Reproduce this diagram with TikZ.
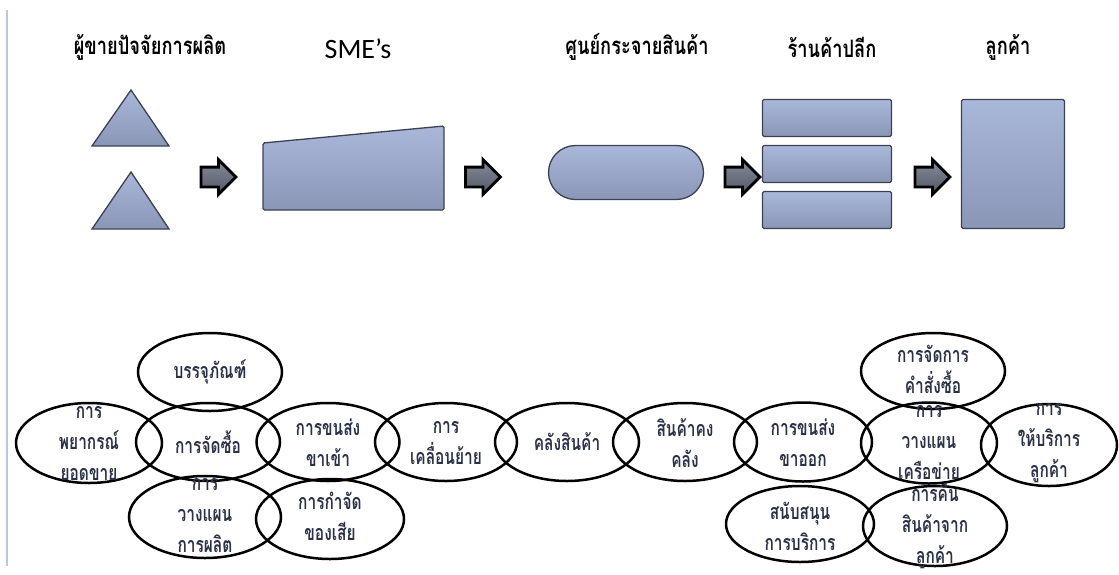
\documentclass[tikz,border=0pt]{standalone}
\usepackage{fontspec}
\usetikzlibrary{shapes.geometric,shapes.arrows}
\newfontfamily\thaihead[Script=Thai, FakeStretch=0.76]{Loma}
\newfontfamily\thaitext[Script=Thai, FakeStretch=0.72]{Loma}
\newfontfamily\latinfont{Carlito}

\definecolor{shapetop}{HTML}{A9B7D9}
\definecolor{shapebot}{HTML}{8A96B6}
\definecolor{shapeedge}{HTML}{3C4252}
\definecolor{arrtop}{HTML}{858B99}
\definecolor{arrbot}{HTML}{525866}
\definecolor{labelink}{HTML}{2B3247}
\definecolor{sideline}{HTML}{B7C6EA}

\tikzset{
  solid shape/.style={draw=shapeedge, line width=1.3pt, top color=shapetop, bottom color=shapebot},
  barbox/.style={solid shape, rectangle, rounded corners=1.5pt, inner sep=0pt},
  blockarrow/.style={single arrow, draw=black, line width=2.8pt, top color=arrtop, bottom color=arrbot,
    minimum height=35pt, minimum width=32pt, single arrow head extend=7.5pt, inner sep=0pt, inner ysep=8.5pt},
  heading/.style={font=\thaihead\bfseries\fontsize{24}{26}\selectfont, text=black, inner sep=0pt},
  bubble/.style={ellipse, draw=black, line width=2.5pt, inner sep=0pt},
  bubbletext/.style={align=center, font=\thaitext\bfseries\fontsize{21.5}{31}\selectfont, text=labelink, inner sep=0pt},
}

\begin{document}
\begin{tikzpicture}[x=1pt, y=-1pt]
\useasboundingbox (0,0) rectangle (1119,574);

% thin margin rule on the left
\draw[sideline, line width=1.2pt] (7,10) -- (7,566);

% column headings
\node[heading] (h1) at (150,47) {ผู้ขายปัจจัยการผลิต};
\node[inner sep=0pt, font=\latinfont\fontsize{28}{30}\selectfont] (h2) at (358,49) {SME’s};
\node[heading] (h3) at (637,47) {ศูนย์กระจายสินค้า};
\node[heading] (h4) at (832,47) {ร้านค้าปลีก};
\node[heading] (h5) at (1008,47) {ลูกค้า};

% suppliers: two triangles
\path[solid shape] (92,146) -- (131,90) -- (169,146) -- cycle;
\path[solid shape] (92,229) -- (131,172) -- (169,229) -- cycle;

% SME: slanted block
\path[solid shape, rounded corners=1.5pt] (263,143) -- (444,126) -- (444,210) -- (263,210) -- cycle;

% distribution centre
\node[solid shape, rectangle, rounded corners=27pt, minimum width=155pt, minimum height=54pt, inner sep=0pt] (dc) at (626,172.5) {};

% retailers
\node[barbox, minimum width=129pt, minimum height=37pt] (r1) at (827,118) {};
\node[barbox, minimum width=129pt, minimum height=37pt] (r2) at (827,164) {};
\node[barbox, minimum width=129pt, minimum height=37pt] (r3) at (827,210) {};

% customer
\node[barbox, minimum width=103pt, minimum height=129pt] (cust) at (1013,164) {};

% flow arrows
\node[blockarrow] (a1) at (213.5,177) {};
\node[blockarrow] (a2) at (478,177) {};
\node[blockarrow] (a3) at (737.5,177) {};
\node[blockarrow] (a4) at (927.5,177) {};

% activity bubbles
\node[bubble, minimum width=144pt, minimum height=78pt] (pack)  at (210,372) {};
\node[bubble, minimum width=146pt, minimum height=80pt] (fcst)  at (89,443) {};
\node[bubble, minimum width=144pt, minimum height=78pt] (buy)   at (208,442) {};
\node[bubble, minimum width=143pt, minimum height=78pt] (inb)   at (328,442) {};
\node[bubble, minimum width=152pt, minimum height=82pt] (plan)  at (205,517) {};
\node[bubble, minimum width=148pt, minimum height=80pt] (waste) at (330,519) {};
\node[bubble, minimum width=142pt, minimum height=78pt] (move)  at (446,442) {};
\node[bubble, minimum width=144pt, minimum height=78pt] (wh)    at (567,442) {};
\node[bubble, minimum width=144pt, minimum height=78pt] (inv)   at (685,442) {};
\node[bubble, minimum width=138pt, minimum height=79pt] (outb)  at (803,442) {};
\node[bubble, minimum width=136pt, minimum height=81pt] (net)   at (929,443) {};
\node[bubble, minimum width=136pt, minimum height=82pt] (serv)  at (1049,445) {};
\node[bubble, minimum width=144pt, minimum height=76pt] (order) at (933,371) {};
\node[bubble, minimum width=148pt, minimum height=76pt] (supp)  at (800,524) {};
\node[bubble, minimum width=144pt, minimum height=80pt] (ret)   at (935,526) {};

% bubble labels
\node[bubbletext] (tpack)  at (pack)  {บรรจุภัณฑ์};
\node[bubbletext] (tfcst)  at (89,443)  {การ\\พยากรณ์\\ยอดขาย};
\node[bubbletext] (tbuy)   at (buy)   {การจัดซื้อ};
\node[bubbletext] (tinb)   at (328,443) {การขนส่ง\\ขาเข้า};
\node[bubbletext] (tplan)  at (205,516) {การ\\วางแผน\\การผลิต};
\node[bubbletext] (twaste) at (330,516) {การกำจัด\\ของเสีย};
\node[bubbletext] (tmove)  at (446,443) {การ\\เคลื่อนย้าย};
\node[bubbletext] (twh)    at (wh)    {คลังสินค้า};
\node[bubbletext] (tinv)   at (685,443) {สินค้าคง\\คลัง};
\node[bubbletext] (toutb)  at (803,443) {การขนส่ง\\ขาออก};
\node[bubbletext] (tnet)   at (929,443) {การ\\วางแผน\\เครือข่าย};
\node[bubbletext] (tserv)  at (1049,443) {การ\\ให้บริการ\\ลูกค้า};
\node[bubbletext] (torder) at (933,369) {การจัดการ\\คำสั่งซื้อ};
\node[bubbletext] (tsupp)  at (800,526) {สนับสนุน\\การบริการ};
\node[bubbletext] (tret)   at (935,526) {การคืน\\สินค้าจาก\\ลูกค้า};
\end{tikzpicture}
\end{document}
